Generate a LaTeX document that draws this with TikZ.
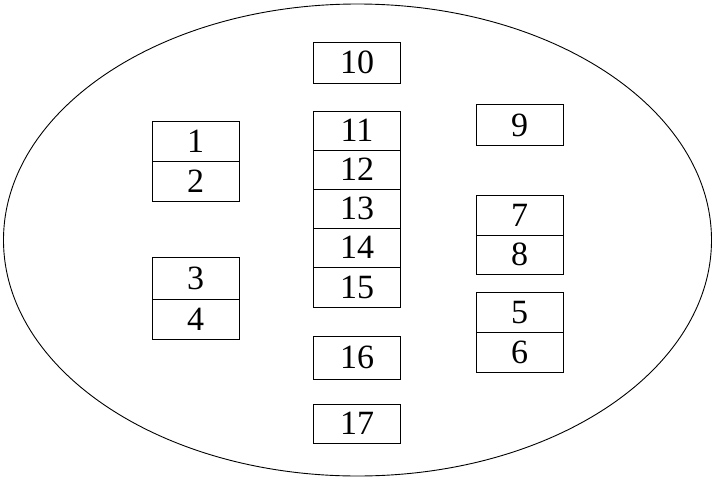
\documentclass[tikz,border=0pt]{standalone}
\usepackage{fontspec}
\setmainfont{Liberation Serif}
\begin{document}
\begin{tikzpicture}[x=1pt,y=-1pt,
  cell/.style={draw=black,line width=0.9pt,minimum width=87pt,minimum height=40pt,inner sep=0pt,font=\fontsize{34}{34}\selectfont,anchor=center},
  outline/.style={draw=black,line width=0.9pt}]
\useasboundingbox (0,0) rectangle (716,480);
\draw[outline] (357.5,240) ellipse [x radius=354, y radius=236];
% left column
\node[cell,minimum height=40pt] (n1) at (195.5,141) {1};
\node[cell,minimum height=40pt] (n2) at (195.5,181) {2};
\node[cell,minimum height=42pt] (n3) at (195.5,278) {3};
\node[cell,minimum height=40pt] (n4) at (195.5,319) {4};
% middle column
\node[cell,minimum height=41pt] (n10) at (357,62.5) {10};
\node[cell,minimum height=39pt] (n11) at (357,130.5) {11};
\node[cell,minimum height=39pt] (n12) at (357,169.5) {12};
\node[cell,minimum height=39pt] (n13) at (357,208.5) {13};
\node[cell,minimum height=39pt] (n14) at (357,247.5) {14};
\node[cell,minimum height=40pt] (n15) at (357,287) {15};
\node[cell,minimum height=43pt] (n16) at (357,357.5) {16};
\node[cell,minimum height=39pt] (n17) at (357,423.5) {17};
% right column
\node[cell,minimum height=41pt] (n9) at (519.5,125) {9};
\node[cell,minimum height=40pt] (n7) at (519.5,215.5) {7};
\node[cell,minimum height=38.5pt] (n8) at (519.5,254.75) {8};
\node[cell,minimum height=40pt] (n5) at (519.5,312.5) {5};
\node[cell,minimum height=40pt] (n6) at (519.5,352.5) {6};
\end{tikzpicture}
\end{document}
